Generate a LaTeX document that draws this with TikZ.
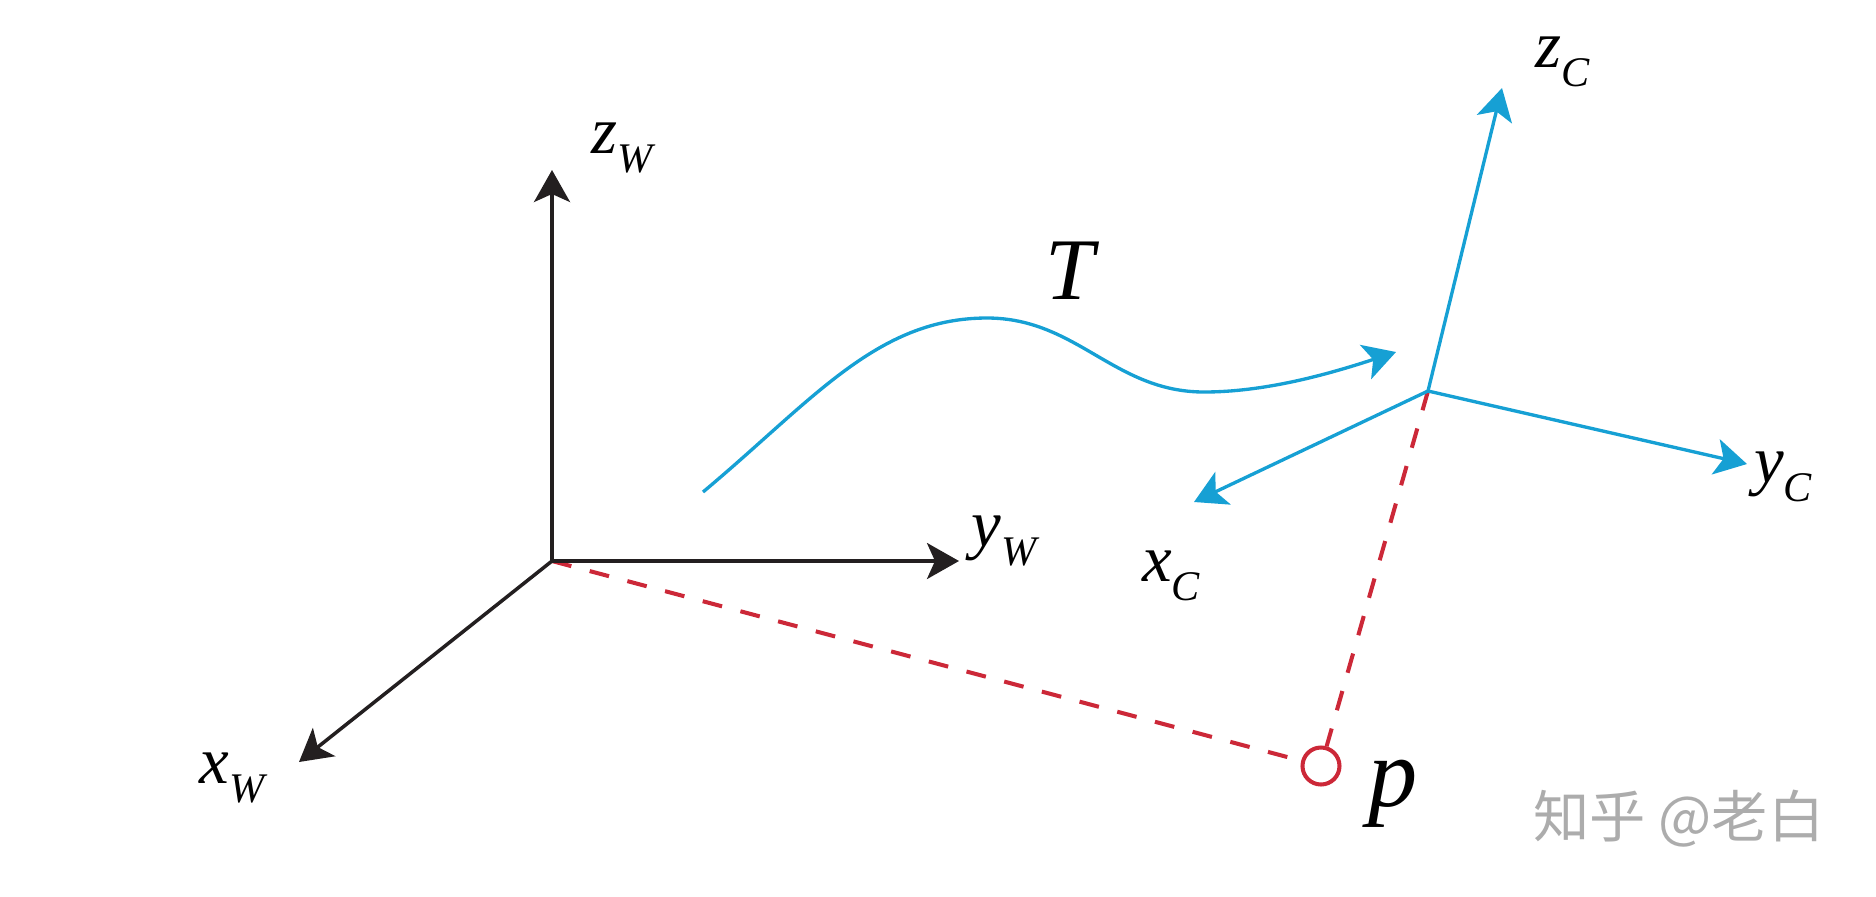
\documentclass[tikz,border=0pt]{standalone}
\usepackage{fontspec}
\setmainfont{Liberation Serif}
\newfontfamily\cjkfont{Noto Sans CJK SC}
\usepackage{xcolor}
\usetikzlibrary{arrows.meta}
\definecolor{axisblack}{RGB}{35,31,32}
\definecolor{camblue}{RGB}{22,160,212}
\definecolor{projred}{RGB}{204,40,56}
\definecolor{markgray}{RGB}{172,172,172}
\newcommand{\axlabel}[2]{{\fontsize{19}{19}\selectfont\itshape #1}\raisebox{-5.5pt}{\fontsize{12}{12}\selectfont\itshape #2}}

\begin{document}
\begin{tikzpicture}[
  x=0.1mm, y=-0.1mm,
  axis/.style={-{Stealth[length=3.2mm,width=3.6mm,inset=0.8mm]},line width=1pt,draw=axisblack},
  camaxis/.style={axis,draw=camblue,line width=0.95pt},
  projline/.style={draw=projred,line width=1.15pt,dash pattern=on 2mm off 1.9mm},
  ptmark/.style={circle,draw=projred,line width=1.15pt,minimum size=3.7mm,inner sep=0pt},
  lbl/.style={inner sep=0pt},
]
\useasboundingbox (0,0) rectangle (1876,896);
% world frame
\coordinate (ow) at (552,561);
\coordinate (xw) at (299,762);
\coordinate (yw) at (959,561);
\coordinate (zw) at (552,170);
% camera frame
\coordinate (oc) at (1428,391);
\coordinate (xc) at (1194,502);
\coordinate (yc) at (1747,464);
\coordinate (zc) at (1502,88);
% transform curve
\coordinate (ts) at (703,492);
\coordinate (te) at (1396,352);
\node[ptmark] (p) at (1321,766) {};
\draw[projline] (ow) -- (p);
\draw[projline] (oc) -- (p);
\draw[axis] (ow) -- (xw);
\draw[axis] (ow) -- (yw);
\draw[axis] (ow) -- (zw);
\draw[camaxis] (oc) -- (xc);
\draw[camaxis] (oc) -- (yc);
\draw[camaxis] (oc) -- (zc);
\draw[camaxis] (ts) .. controls (813,400) and (877,318) .. (987,318)
  .. controls (1077,318) and (1114,392) .. (1204,392)
  .. controls (1264,392) and (1326,375) .. (te);
% labels
\node[lbl] (lzw) at (622,148) {\axlabel{z}{W}};
\node[lbl] (lyw) at (1004,541) {\axlabel{y}{W}};
\node[lbl] (lxw) at (232,778) {\axlabel{x}{W}};
\node[lbl] (lzc) at (1563,62) {\axlabel{z}{C}};
\node[lbl] (lyc) at (1783,477) {\axlabel{y}{C}};
\node[lbl] (lxc) at (1171,576) {\axlabel{x}{C}};
\node[lbl,font=\fontsize{25}{25}\selectfont\itshape] (lt) at (1070,271) {T};
\node[lbl,font=\fontsize{28}{28}\selectfont\itshape] (lp) at (1393,794) {p};
\node[lbl,font=\cjkfont\fontsize{16}{16}\selectfont,text=markgray] (mark) at (1679,819) {知乎 @老白};
\end{tikzpicture}
\end{document}
